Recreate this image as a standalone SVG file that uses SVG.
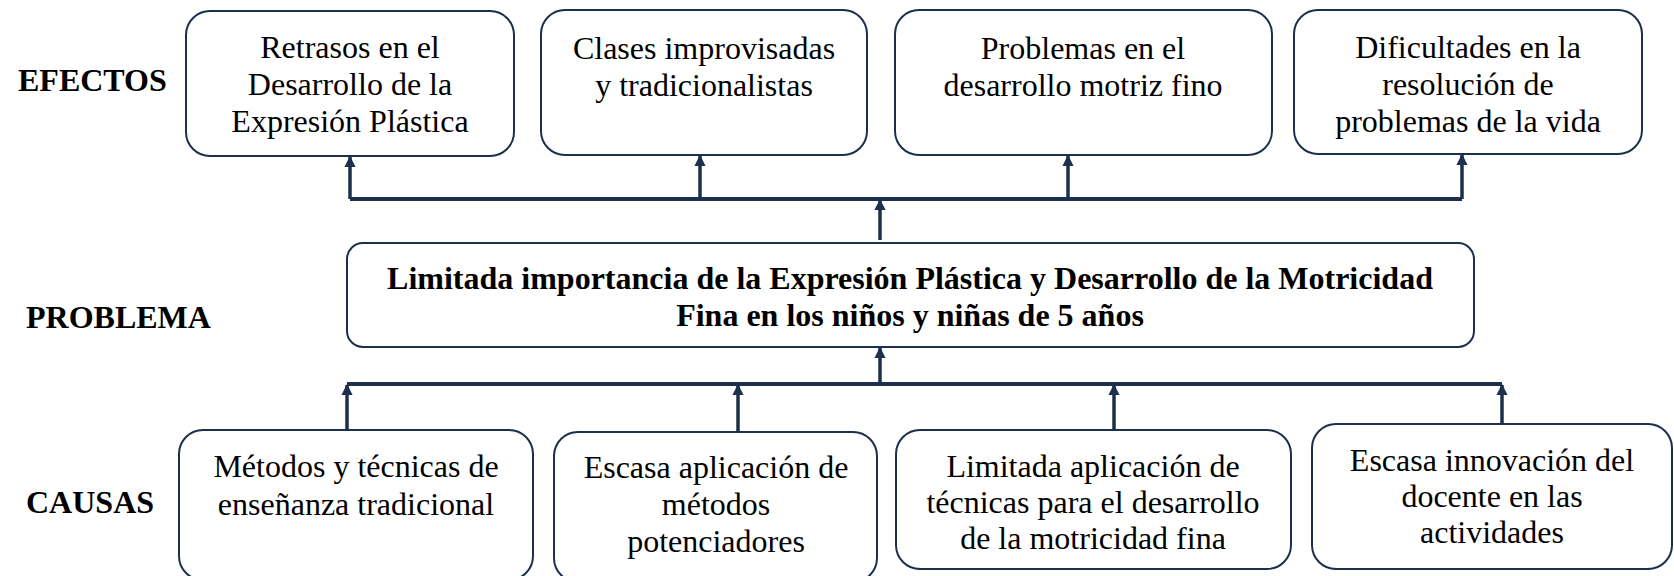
<svg xmlns="http://www.w3.org/2000/svg" width="1674" height="576" viewBox="0 0 1674 576">
<defs>
<style>
.box{fill:#fff;stroke:#1c2f4c;stroke-width:2}
.t{text-anchor:middle}
.b{font-weight:bold}
.lbl{font-weight:bold}
.c{stroke:#1c2f4c;stroke-width:4;fill:none}
.a{stroke:#1c2f4c;stroke-width:3.5;fill:none;marker-end:url(#ah)}
</style>
<marker id="ah" viewBox="0 0 10 10" refX="9" refY="5" markerWidth="3.2" markerHeight="3.2" orient="auto" markerUnits="strokeWidth">
<path d="M0,0 L10,5 L0,10 z" fill="#1c2f4c"/>
</marker>
</defs>
<rect width="1674" height="576" fill="#fff"/>
<g font-family="Liberation Serif, Times New Roman, serif" font-size="32" fill="#000">
<g id="labels">
<text class="lbl" x="18" y="91">EFECTOS</text>
<text class="lbl" x="26" y="328">PROBLEMA</text>
<text class="lbl" x="26" y="513">CAUSAS</text>
</g>
<g id="efecto1"><rect class="box" x="186" y="11" width="328" height="145" rx="24"/>
<text class="t" x="350" y="58">Retrasos en el</text><text class="t" x="350" y="95">Desarrollo de la</text><text class="t" x="350" y="132">Expresión Plástica</text></g>
<g id="efecto2"><rect class="box" x="541" y="10" width="326" height="145" rx="24"/>
<text class="t" x="704" y="59">Clases improvisadas</text><text class="t" x="704" y="96">y tradicionalistas</text></g>
<g id="efecto3"><rect class="box" x="895" y="10" width="377" height="145" rx="24"/>
<text class="t" x="1083" y="59">Problemas en el</text><text class="t" x="1083" y="96">desarrollo motriz fino</text></g>
<g id="efecto4"><rect class="box" x="1294" y="10" width="348" height="144" rx="24"/>
<text class="t" x="1468" y="58">Dificultades en la</text><text class="t" x="1468" y="95">resolución de</text><text class="t" x="1468" y="132">problemas de la vida</text></g>
<g id="problema"><rect class="box" x="347" y="243" width="1127" height="104" rx="16"/>
<text class="t b" x="910" y="289">Limitada importancia de la Expresión Plástica y Desarrollo de la Motricidad</text>
<text class="t b" x="910" y="326">Fina en los niños y niñas de 5 años</text></g>
<g id="causa1"><rect class="box" x="179" y="430" width="354" height="150" rx="24"/>
<text class="t" x="356" y="477">Métodos y técnicas de</text><text class="t" x="356" y="515">enseñanza tradicional</text></g>
<g id="causa2"><rect class="box" x="554" y="432" width="323" height="150" rx="24"/>
<text class="t" x="716" y="478">Escasa aplicación de</text><text class="t" x="716" y="515">métodos</text><text class="t" x="716" y="552">potenciadores</text></g>
<g id="causa3"><rect class="box" x="896" y="430" width="395" height="139" rx="24"/>
<text class="t" x="1093" y="477">Limitada aplicación de</text><text class="t" x="1093" y="513">técnicas para el desarrollo</text><text class="t" x="1093" y="549">de la motricidad fina</text></g>
<g id="causa4"><rect class="box" x="1312" y="424" width="360" height="145" rx="24"/>
<text class="t" x="1492" y="471">Escasa innovación del</text><text class="t" x="1492" y="507">docente en las</text><text class="t" x="1492" y="543">actividades</text></g>
</g>
<g id="connectors">
<path class="c" d="M350,199 H1462"/>
<path class="a" d="M350,199 V157"/>
<path class="a" d="M700,199 V156"/>
<path class="a" d="M1068,199 V156"/>
<path class="a" d="M1462,199 V155"/>
<path class="a" d="M880,240 V200"/>
<path class="c" d="M347,384 H1502"/>
<path class="a" d="M880,384 V348"/>
<path class="a" d="M347,430 V385"/>
<path class="a" d="M738,432 V385"/>
<path class="a" d="M1114,430 V385"/>
<path class="a" d="M1502,424 V385"/>
</g>
</svg>
